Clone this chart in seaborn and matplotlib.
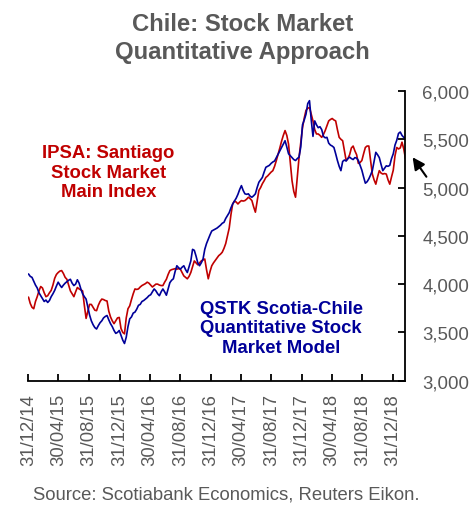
import numpy as np
import pandas as pd
import matplotlib
matplotlib.use("Agg")
import matplotlib.pyplot as plt
import matplotlib.dates as mdates
from matplotlib.ticker import FuncFormatter
import seaborn as sns

# Weekly readings, starting 31/12/2014
start_date = "2014-12-31"

qstk_model = [
    4105, 4080, 4070, 4030, 3990, 3960, 3910, 3880, 3850, 3820,
    3835, 3810, 3830, 3870, 3900, 3935, 3980, 4020, 3990, 3965,
    3990, 4010, 4025, 4040, 4050, 4010, 3985, 4000, 4045, 4010,
    3950, 3900, 3870, 3845, 3760, 3680, 3620, 3580, 3550, 3535,
    3570, 3600, 3620, 3650, 3665, 3675, 3630, 3590, 3560, 3520,
    3490, 3500, 3520, 3470, 3420, 3385, 3450, 3560, 3640, 3660,
    3700, 3710, 3740, 3780, 3790, 3820, 3830, 3845, 3860, 3880,
    3890, 3920, 3950, 3930, 3900, 3880, 3920, 3950, 3920, 3885,
    3950, 4015, 4040, 4055, 4130, 4190, 4170, 4155, 4175, 4190,
    4150, 4120, 4180, 4240, 4360, 4350, 4290, 4220, 4190, 4220,
    4260, 4360, 4420, 4465, 4510, 4550, 4560, 4570, 4580, 4595,
    4610, 4630, 4640, 4680, 4710, 4740, 4790, 4830, 4860, 4890,
    4930, 4980, 5020, 4970, 4935, 4930, 4935, 4910, 4900, 4915,
    4935, 5000, 5055, 5080, 5105, 5160, 5210, 5220, 5230, 5250,
    5265, 5275, 5310, 5345, 5380, 5415, 5450, 5485, 5420, 5350,
    5330, 5310, 5290, 5280, 5300, 5315, 5420, 5650, 5700, 5760,
    5870, 5900, 5700, 5530, 5690, 5650, 5620, 5630, 5600, 5530,
    5515, 5520, 5460, 5440, 5430, 5415, 5350, 5280, 5220, 5175,
    5270, 5285, 5275, 5300, 5315, 5300, 5290, 5310, 5305, 5280,
    5230, 5180, 5110, 5045, 5060, 5090, 5130, 5175, 5270, 5365,
    5340, 5310, 5240, 5175, 5200, 5225, 5220, 5230, 5300, 5350,
    5440, 5490, 5560, 5575, 5540, 5520, 5505,
]

ipsa_index = [
    3865, 3800, 3760, 3745, 3820, 3870, 3930, 3975, 3960, 3910,
    3870, 3880, 3910, 3935, 3990, 4060, 4100, 4120, 4135, 4140,
    4110, 4070, 4050, 3990, 3930, 3900, 3870, 3920, 3965, 3950,
    3940, 3930, 3780, 3645, 3720, 3790, 3790, 3760, 3730, 3725,
    3780, 3820, 3845, 3840, 3830, 3825, 3720, 3660, 3620, 3590,
    3620, 3650, 3655, 3540, 3500, 3485, 3650, 3745, 3775, 3840,
    3900, 3950, 3945, 3950, 3970, 3985, 3995, 4005, 4020, 4010,
    3990, 3970, 3985, 4000, 4000, 3990, 3985, 3985, 4020, 4050,
    4100, 4140, 4150, 4155, 4160, 4155, 4160, 4155, 4120, 4085,
    4070, 4055, 4080, 4120, 4180, 4240, 4220, 4200, 4220, 4240,
    4250, 4260, 4150, 4055, 4130, 4190, 4220, 4245, 4270, 4295,
    4310, 4330, 4370, 4420, 4500, 4580, 4720, 4830, 4860, 4850,
    4830, 4850, 4865, 4860, 4865, 4880, 4900, 4885, 4865, 4800,
    4745, 4860, 4970, 5000, 5040, 5070, 5105, 5120, 5140, 5160,
    5175, 5220, 5280, 5345, 5410, 5480, 5540, 5590, 5540, 5450,
    5260, 5070, 4960, 4900, 5100, 5310, 5470, 5620, 5720, 5800,
    5820, 5830, 5760, 5690, 5600, 5555, 5555, 5540, 5520, 5550,
    5590, 5640, 5690, 5705, 5715, 5700, 5690, 5600, 5520, 5500,
    5485, 5380, 5280, 5300, 5340, 5410, 5430, 5380, 5340, 5250,
    5260, 5280, 5350, 5415, 5430, 5430, 5280, 5140, 5080, 5035,
    5110, 5175, 5150, 5140, 5145, 5140, 5080, 5035, 5110, 5180,
    5330, 5415, 5400, 5410, 5470, 5400, 5300,
]

tick_dates = [
    "2014-12-31", "2015-04-30", "2015-08-31", "2015-12-31", "2016-04-30",
    "2016-08-31", "2016-12-31", "2017-04-30", "2017-08-31", "2017-12-31",
    "2018-04-30", "2018-08-31", "2018-12-31",
]
y_ticks = [3000, 3500, 4000, 4500, 5000, 5500, 6000]

RED = "#C00000"
BLUE = "#000099"
GREY = "#595959"

dates = pd.date_range(start_date, periods=len(ipsa_index), freq="7D")
df = pd.DataFrame({
    "date": np.concatenate([dates, dates]),
    "value": ipsa_index + qstk_model,
    "series": ["IPSA"] * len(ipsa_index) + ["QSTK"] * len(qstk_model),
})

sns.set_style("white")
plt.rcParams["font.family"] = ["Liberation Sans", "DejaVu Sans"]

fig = plt.figure(figsize=(4.71, 5.06), dpi=100)
ax = fig.add_axes([0.0605, 0.2457, 0.8004, 0.5725])

sns.lineplot(data=df, x="date", y="value", hue="series",
             palette={"IPSA": RED, "QSTK": BLUE}, linewidth=1.2,
             legend=False, ax=ax)

ax.set_xlim(dates[0], dates[-1])
ax.set_ylim(3000, 6000)
ax.set_xlabel("")
ax.set_ylabel("")

ax.set_xticks(pd.to_datetime(tick_dates))
ax.xaxis.set_major_formatter(mdates.DateFormatter("%d/%m/%y"))
ax.set_yticks(y_ticks)
ax.yaxis.set_major_formatter(FuncFormatter(lambda v, p: f"{int(v):,}"))
ax.yaxis.tick_right()

for s in ["top", "left"]:
    ax.spines[s].set_visible(False)
for s in ["bottom", "right"]:
    ax.spines[s].set_color("black")
    ax.spines[s].set_linewidth(1.3)

ax.tick_params(axis="x", direction="in", length=5, width=1.3, color="black",
               labelsize=13.3, labelcolor=GREY, rotation=90, pad=9,
               bottom=True)
ax.tick_params(axis="y", direction="in", length=5, width=1.3, color="black",
               labelsize=13.4, labelcolor=GREY, pad=12, right=True, left=False)

fig.text(0.515, 0.924, "Chile: Stock Market\nQuantitative Approach",
         ha="center", va="center", fontsize=17.2, fontweight="bold",
         color=GREY, linespacing=1.25)

fig.text(0.23, 0.658, "IPSA: Santiago\nStock Market\nMain Index",
         ha="center", va="center", fontsize=13.3, fontweight="bold",
         color=RED, linespacing=1.18)

fig.text(0.597, 0.350, "QSTK Scotia-Chile\nQuantitative Stock\nMarket Model",
         ha="center", va="center", fontsize=13.3, fontweight="bold",
         color=BLUE, linespacing=1.18)

ax.annotate("", xy=(411, 350), xycoords="figure pixels",
            xytext=(428, 326), textcoords="figure pixels",
            arrowprops=dict(arrowstyle="-|>", color="black", lw=1.5,
                            mutation_scale=18),
            annotation_clip=False)

fig.text(0.481, 0.013, "Source: Scotiabank Economics, Reuters Eikon.",
         ha="center", va="baseline", fontsize=13.3, color=GREY)

fig.savefig("out.png", dpi=100)
